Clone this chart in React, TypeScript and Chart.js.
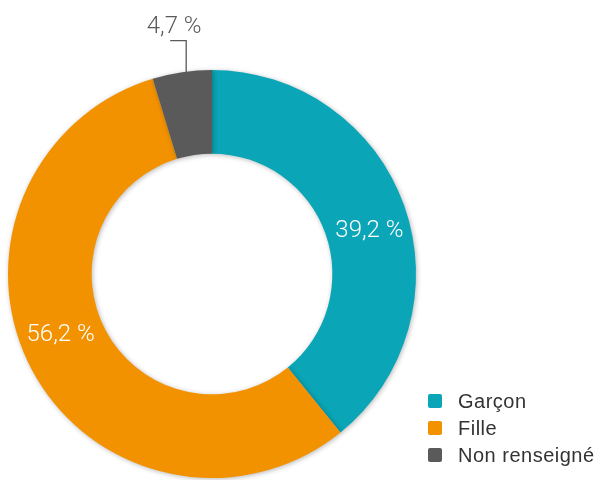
import React, { useEffect, useRef } from "react";
import { Chart, registerables } from "chart.js";

Chart.register(...registerables);

const categories = ["Garçon", "Fille", "Non renseigné"];
const values = [39.2, 56.2, 4.7];
const valueLabels = ["39,2 %", "56,2 %", "4,7 %"];
const colors = ["#0aa5b6", "#f39200", "#5a5a5a"];

const shadowPlugin = {
  id: "ringShadow",
  beforeDatasetsDraw(chart: any) {
    const ctx = chart.ctx;
    ctx.save();
    ctx.shadowColor = "rgba(0,0,0,0.28)";
    ctx.shadowBlur = 5;
    ctx.shadowOffsetX = 1;
    ctx.shadowOffsetY = 1;
  },
  afterDatasetsDraw(chart: any) {
    chart.ctx.restore();
  },
};

const labelPlugin = {
  id: "valueLabels",
  afterDraw(chart: any) {
    const ctx = chart.ctx;
    const meta = chart.getDatasetMeta(0);
    ctx.save();
    meta.data.forEach((arc: any, i: number) => {
      const { x, y, startAngle, endAngle, innerRadius, outerRadius } = arc.getProps(
        ["x", "y", "startAngle", "endAngle", "innerRadius", "outerRadius"],
        true
      );
      const a = startAngle + (endAngle - startAngle) * 0.53;
      ctx.textAlign = "center";
      ctx.textBaseline = "middle";
      ctx.font = "300 24px Roboto, 'Liberation Sans', sans-serif";
      if (i < 2) {
        const r = (innerRadius + outerRadius) / 2 + 1;
        ctx.fillStyle = "#ffffff";
        ctx.fillText(valueLabels[i], x + Math.cos(a) * r, y + Math.sin(a) * r);
      } else {
        const am = startAngle + (endAngle - startAngle) * 0.57;
        const px = x + Math.cos(am) * outerRadius;
        const py = y + Math.sin(am) * outerRadius;
        ctx.strokeStyle = "#5a5a5a";
        ctx.lineWidth = 1.3;
        ctx.beginPath();
        ctx.moveTo(px, py + 1);
        ctx.lineTo(px, py - 31);
        ctx.lineTo(px - 16, py - 31);
        ctx.stroke();
        ctx.fillStyle = "#5a5a5a";
        ctx.fillText(valueLabels[i], px - 12, py - 45);
      }
    });
    // legend
    const lx = 428;
    const ly0 = 401;
    const step = 27;
    categories.forEach((c, i) => {
      const cy = ly0 + i * step;
      ctx.fillStyle = colors[i];
      ctx.beginPath();
      (ctx as any).roundRect(lx, cy - 7, 14, 14, 2);
      ctx.fill();
      ctx.fillStyle = "#333333";
      ctx.font = "20px 'Liberation Sans', Arial, sans-serif";
      (ctx as any).letterSpacing = "0.5px";
      ctx.textAlign = "left";
      ctx.textBaseline = "middle";
      ctx.fillText(c, 458, cy + 1);
      (ctx as any).letterSpacing = "0px";
    });
    ctx.restore();
  },
};

export default function App() {
  const ref = useRef<HTMLCanvasElement | null>(null);
  useEffect(() => {
    if (!ref.current) return;
    const chart = new Chart(ref.current, {
      type: "doughnut",
      data: {
        labels: categories,
        datasets: [
          {
            data: values,
            backgroundColor: colors,
            borderWidth: 0,
          },
        ],
      },
      options: {
        responsive: false,
        animation: false,
        cutout: "59%",
        layout: { padding: { left: 8, top: 70, bottom: 2, right: 184 } },
        plugins: {
          legend: { display: false },
          tooltip: { enabled: false },
        },
      },
      plugins: [shadowPlugin, labelPlugin],
    });
    return () => chart.destroy();
  }, []);
  return (
    <div style={{ position: "absolute", left: 0, top: 0, width: 600, height: 480, background: "#fff" }}>
      <canvas ref={ref} width={600} height={480} />
    </div>
  );
}
